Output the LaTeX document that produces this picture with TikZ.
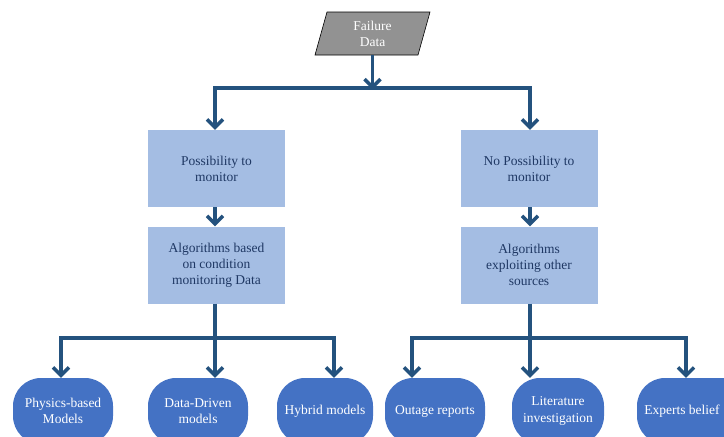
\documentclass[tikz,border=0pt]{standalone}
\usepackage{fontspec}
\setmainfont{Liberation Serif}
\usetikzlibrary{arrows.meta}
\definecolor{linkblue}{HTML}{24527E}
\definecolor{boxblue}{HTML}{A4BDE3}
\definecolor{boxtext}{HTML}{1F3864}
\definecolor{leafblue}{HTML}{4472C4}
\definecolor{datagray}{HTML}{7F7F7F}
\tikzset{
  conn/.style={draw=linkblue, line width=3.2pt,
    -{Straight Barb[length=8pt, width=16pt, line width=3.4pt]}},
  bus/.style={draw=linkblue, line width=3.2pt},
  stepbox/.style={fill=boxblue, text=boxtext, minimum width=137pt,
    minimum height=77pt, align=center, inner sep=2pt,
    font=\fontsize{13.5}{16}\selectfont},
  leaf/.style={fill=leafblue, text=white, rounded corners=28pt,
    minimum height=66pt, align=center, inner sep=2pt,
    font=\fontsize{13.5}{16.5}\selectfont},
}
\begin{document}
\begin{tikzpicture}[x=1pt, y=-1pt]
\useasboundingbox (0,0) rectangle (724,437);
\begin{scope}
\clip (0,0) rectangle (724,437);

% input data block
\path[draw=black, line width=0.6pt, top color=datagray!85, bottom color=datagray!115!black]
  (327,12) -- (430,12) -- (418,55) -- (315,55) -- cycle;
\node[text=white, align=center, font=\fontsize{13.5}{16}\selectfont] (fd) at (372.5,33.5) {Failure\\Data};
\coordinate (fdb) at (372.5,55);

% first split
\coordinate (j0) at (372.5,88);
\coordinate (jl) at (215,88);
\coordinate (jr) at (530,88);

\node[stepbox] (pm) at (216.5,168.5) {Possibility to\\monitor};
\node[stepbox] (am) at (216.5,265) {Algorithms based\\on condition\\monitoring Data};
\node[stepbox] (npm) at (529,168.5) {No Possibility to\\monitor};
\node[stepbox] (ao) at (529,265) {Algorithms\\exploiting other\\sources};

% leaves; the last one runs on past the right edge
\fill[leafblue] (682,378) rectangle (745,444);
\node[leaf, minimum width=100pt] (phy) at (63,411) {Physics-based\\Models};
\node[leaf, minimum width=100pt] (dd) at (198,411) {Data-Driven\\models};
\node[leaf, minimum width=96pt] (hy) at (325,411) {Hybrid models};
\node[leaf, minimum width=100pt] (out) at (435,411) {Outage reports};
\node[leaf, minimum width=92pt] (lit) at (558,411) {Literature\\investigation};
\node[leaf, minimum width=90pt] (exp) at (682,411) {Experts belief};

% connectors from the data block
\draw[conn] (fdb) -- ([yshift=-1.5pt]j0);
\draw[bus] ([xshift=-1.6pt]jl) -- ([xshift=1.6pt]jr);
\draw[conn] (jl) -- (jl |- pm.north);
\draw[conn] (jr) -- (jr |- npm.north);

\draw[conn] (pm.south -| jl) -- (am.north -| jl);
\draw[conn] (npm.south -| jr) -- (ao.north -| jr);

% left fan-out
\coordinate (ll) at (61,338);
\coordinate (lm) at (215,338);
\coordinate (lr) at (334,338);
\draw[bus] (am.south -| lm) -- (lm);
\draw[bus] ([xshift=-1.6pt]ll) -- ([xshift=1.6pt]lr);
\draw[conn] (ll) -- (ll |- phy.north);
\draw[conn] (lm) -- (lm |- dd.north);
\draw[conn] (lr) -- (lr |- hy.north);

% right fan-out
\coordinate (rl) at (412,338);
\coordinate (rm) at (530,338);
\coordinate (rr) at (686,338);
\draw[bus] (ao.south -| rm) -- (rm);
\draw[bus] ([xshift=-1.6pt]rl) -- ([xshift=1.6pt]rr);
\draw[conn] (rl) -- (rl |- out.north);
\draw[conn] (rm) -- (rm |- lit.north);
\draw[conn] (rr) -- (rr |- exp.north);
\end{scope}
\end{tikzpicture}
\end{document}
